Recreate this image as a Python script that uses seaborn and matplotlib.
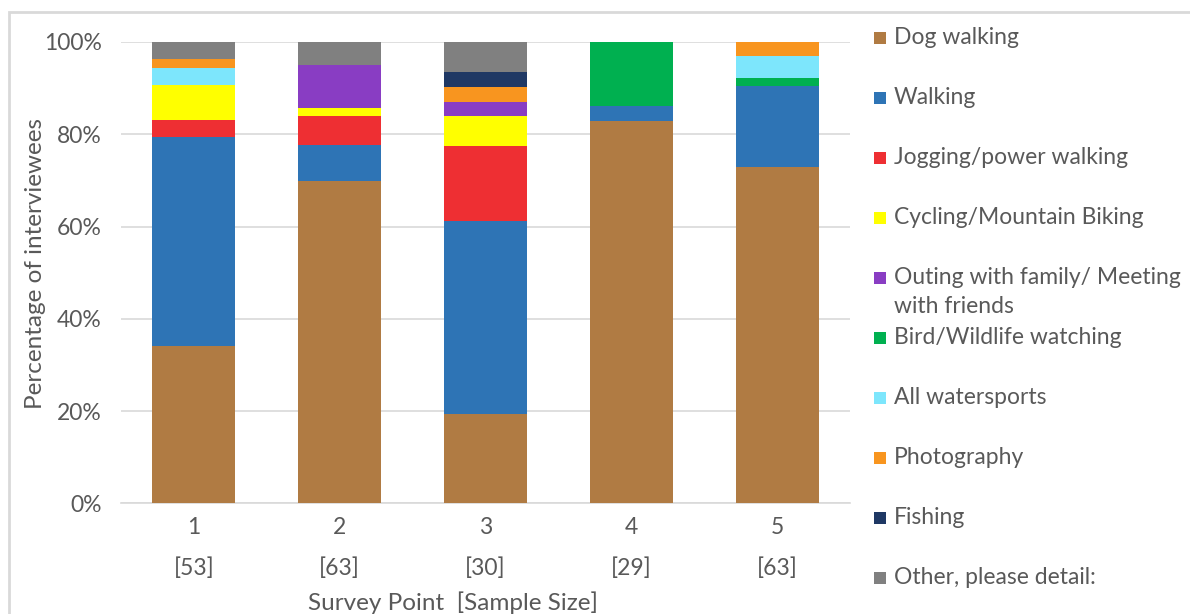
import numpy as np
import pandas as pd
import matplotlib
matplotlib.use("Agg")
import matplotlib.pyplot as plt
import seaborn as sns
from matplotlib.patches import Rectangle
from matplotlib.ticker import PercentFormatter

# ---------------- data ----------------
points = ["1", "2", "3", "4", "5"]
sample_sizes = [53, 63, 30, 29, 63]
activities = [
    "Dog walking",
    "Walking",
    "Jogging/power walking",
    "Cycling/Mountain Biking",
    "Outing with family/ Meeting\nwith friends",
    "Bird/Wildlife watching",
    "All watersports",
    "Photography",
    "Fishing",
    "Other, please detail:",
]
dog_walking = [34.0, 69.8, 19.4, 82.8, 73.0]
walking = [45.3, 7.9, 41.9, 3.4, 17.5]
jogging = [3.8, 6.3, 16.1, 0.0, 0.0]
cycling = [7.5, 1.6, 6.5, 0.0, 0.0]
outing = [0.0, 9.5, 3.2, 0.0, 0.0]
bird = [0.0, 0.0, 0.0, 13.8, 1.6]
watersports = [3.8, 0.0, 0.0, 0.0, 4.8]
photography = [1.9, 0.0, 3.2, 0.0, 3.2]
fishing = [0.0, 0.0, 3.2, 0.0, 0.0]
other = [3.8, 4.8, 6.5, 0.0, 0.0]
series = [dog_walking, walking, jogging, cycling, outing, bird,
          watersports, photography, fishing, other]
colors = ["#B07B43", "#2E74B5", "#EE2F33", "#FFFF00", "#893DC3",
          "#00B050", "#7DE6FC", "#F8951F", "#1F3864", "#808080"]

# ---------------- styling ----------------
sns.set_theme(style="white")
plt.rcParams["font.family"] = ["Lato", "DejaVu Sans"]
TXT = "#595959"
GRID = "#D9D9D9"

labels = [f"{p}\n[{n}]" for p, n in zip(points, sample_sizes)]
rows = []
for a, vals in zip(activities, series):
    for lab, v in zip(labels, vals):
        rows.append({"label": lab, "activity": a, "value": v})
df = pd.DataFrame(rows)
df["activity"] = pd.Categorical(df["activity"], activities, ordered=True)
df = df.sort_values(["label", "activity"])
df["cum"] = df.groupby("label")["value"].cumsum()

W, H = 1190, 614
fig = plt.figure(figsize=(W / 100, H / 100), dpi=100)
ax = fig.add_axes([121 / W, 1 - 503.3 / H, 729 / W, 461.3 / H])

# stacked bars: draw cumulative totals from top series down
for a, c in list(zip(activities, colors))[::-1]:
    sub = df[df["activity"] == a]
    sns.barplot(data=sub, x="label", y="cum", order=labels, color=c,
                saturation=1, width=0.57, ax=ax, linewidth=0, zorder=3)

ax.set_ylim(0, 100)
ax.set_xlim(-0.5, len(labels) - 0.5)
ax.set_yticks(np.arange(0, 101, 20))
ax.yaxis.set_major_formatter(PercentFormatter(decimals=0))
ax.grid(axis="y", color=GRID, linewidth=1.2, zorder=0)
ax.set_axisbelow(True)
for s in ["left", "right", "top"]:
    ax.spines[s].set_visible(False)
ax.spines["bottom"].set_color(GRID)
ax.spines["bottom"].set_linewidth(1.2)
ax.tick_params(axis="both", length=0, colors=TXT, labelsize=16.5)
ax.tick_params(axis="y", pad=14)
ax.tick_params(axis="x", pad=10)
for t in ax.get_xticklabels():
    t.set_linespacing(2.1)
ax.set_ylabel("Percentage of interviewees", color=TXT, fontsize=17.5, labelpad=1)
ax.yaxis.set_label_coords(-0.103, 0.52)
ax.set_xlabel("Survey Point  [Sample Size]", color=TXT, fontsize=17.5, labelpad=9)
ax.xaxis.label.set_x(0.455)

# legend (manual, Excel-like layout)
for i, (a, c) in enumerate(zip(activities, colors)):
    yc = 38 + 60 * i
    fig.patches.append(Rectangle((874 / W, 1 - (yc + 6) / H), 12 / W, 12 / H,
                                 transform=fig.transFigure, facecolor=c,
                                 edgecolor="none"))
    fig.text(894 / W, 1 - (yc - 11.5) / H, a, color=TXT, fontsize=16.5,
             va="top", ha="left", linespacing=1.5)

# outer chart border
fig.patches.append(Rectangle((9 / W, -0.1), 1.2, 1 - 12 / H + 0.1,
                             transform=fig.transFigure, fill=False,
                             edgecolor=GRID, linewidth=2))

fig.savefig("out.png", dpi=100, facecolor="white")
